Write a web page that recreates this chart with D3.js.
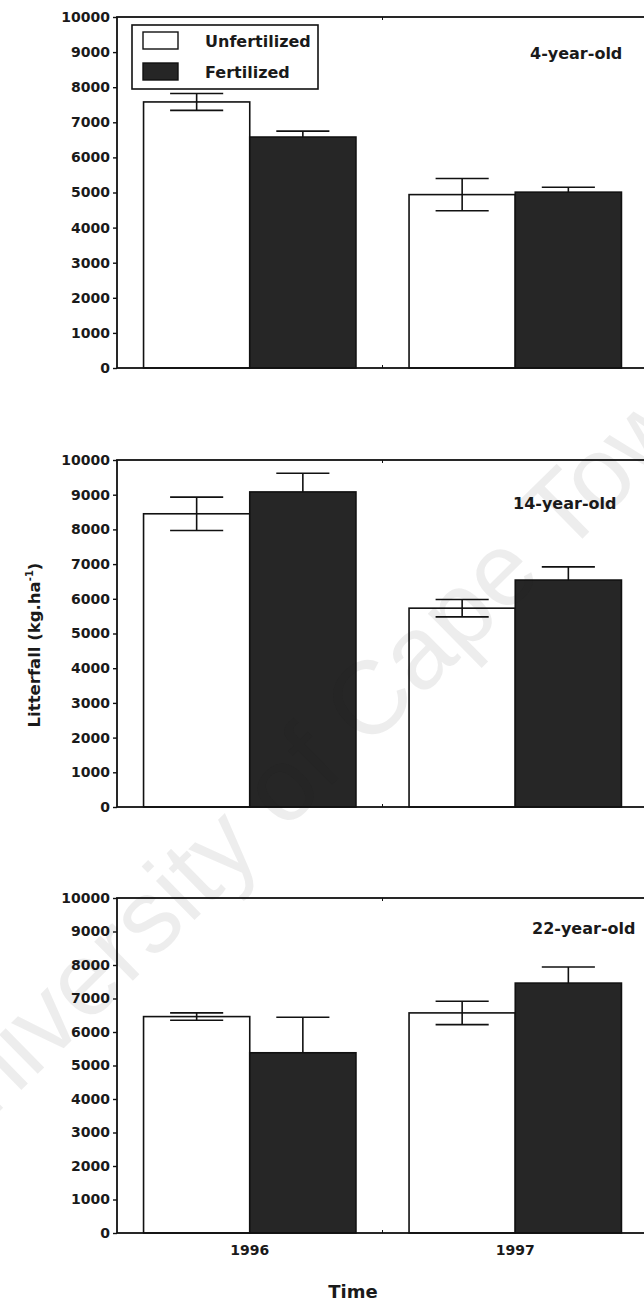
<!DOCTYPE html>
<html>
<head>
<meta charset="utf-8">
<script src="https://cdn.jsdelivr.net/npm/d3@7"></script>
<style>
  body { margin: 0; background: #fff; }
  svg { display: block; }
  text { font-family: "DejaVu Sans", sans-serif; font-weight: bold; fill: #1a1a1a; }
</style>
</head>
<body>
<div id="chart"></div>
<script>
// data
const years = ['1996', '1997'];
const ages = ['4-year-old', '14-year-old', '22-year-old'];
const series = ['Unfertilized', 'Fertilized'];
const unfertMean = [[7580, 4940], [8450, 5730], [6460, 6570]];
const unfertErr = [[240, 460], [480, 250], [110, 350]];
const fertMean = [[6580, 5010], [9080, 6540], [5380, 7460]];
const fertErr = [[170, 140], [540, 380], [1060, 480]];
const yTicks = [0, 1000, 2000, 3000, 4000, 5000, 6000, 7000, 8000, 9000, 10000];

const width = 644, height = 1303;
const left = 117, right = 648;
const panels = [
    { top: 17, bottom: 368 },
    { top: 460, bottom: 807 },
    { top: 898, bottom: 1233 }
];
const agePos = [{ x: 530, y: 59 }, { x: 513, y: 509 }, { x: 532, y: 934 }];
const fills = ['#ffffff', '#262626'];

const svg = d3.select('#chart').append('svg')
    .attr('width', width)
    .attr('height', height);

const x = d3.scaleBand().domain(years).range([left, right])
    .paddingInner(0.2).paddingOuter(0.1);
const xs = d3.scaleBand().domain(series).range([0, x.bandwidth()]);
const cx = d => x(d.yr) + xs(d.s) + xs.bandwidth() / 2;

panels.forEach((p, pi) => {
    const y = d3.scaleLinear().domain([0, 10000]).range([p.bottom, p.top]);
    const g = svg.append('g');

    const rows = [];
    years.forEach((yr, i) => {
        rows.push({ yr, s: series[0], v: unfertMean[pi][i], e: unfertErr[pi][i] });
        rows.push({ yr, s: series[1], v: fertMean[pi][i], e: fertErr[pi][i] });
    });

    // bars
    g.selectAll('rect.bar').data(rows).join('rect')
        .attr('class', 'bar')
        .attr('x', d => x(d.yr) + xs(d.s))
        .attr('y', d => y(d.v))
        .attr('width', xs.bandwidth())
        .attr('height', d => y(0) - y(d.v))
        .attr('fill', d => fills[series.indexOf(d.s)])
        .attr('stroke', '#111')
        .attr('stroke-width', 1.6);

    // error bars (the lower half of the dark bars is hidden in the fill)
    const cap = xs.bandwidth() * 0.25;
    const eb = g.selectAll('g.err').data(rows).join('g').attr('class', 'err')
        .attr('stroke', '#111').attr('stroke-width', 1.6);
    eb.append('line')
        .attr('x1', cx).attr('x2', cx)
        .attr('y1', d => d.s === series[0] ? y(d.v - d.e) : y(d.v))
        .attr('y2', d => y(d.v + d.e));
    eb.append('line')
        .attr('x1', d => cx(d) - cap).attr('x2', d => cx(d) + cap)
        .attr('y1', d => y(d.v + d.e)).attr('y2', d => y(d.v + d.e));
    eb.filter(d => d.s === series[0]).append('line')
        .attr('x1', d => cx(d) - cap).attr('x2', d => cx(d) + cap)
        .attr('y1', d => y(d.v - d.e)).attr('y2', d => y(d.v - d.e));

    // frame (right side falls outside the picture)
    g.append('rect')
        .attr('x', left).attr('y', p.top)
        .attr('width', right - left).attr('height', p.bottom - p.top)
        .attr('fill', 'none').attr('stroke', '#111').attr('stroke-width', 1.8);

    // small ticks at the year boundary
    const mid = x('1997') - x.step() * x.paddingInner() / 2;
    g.append('line').attr('x1', mid).attr('x2', mid)
        .attr('y1', p.top).attr('y2', p.top + 3).attr('stroke', '#111');
    g.append('line').attr('x1', mid).attr('x2', mid)
        .attr('y1', p.bottom).attr('y2', p.bottom - 3).attr('stroke', '#111');

    // y axis
    const ya = g.append('g')
        .attr('transform', `translate(${left},0)`)
        .call(d3.axisLeft(y).tickValues(yTicks).tickSize(4).tickPadding(3).tickFormat(d3.format('d')));
    ya.select('.domain').remove();
    ya.selectAll('line').attr('stroke', '#111').attr('stroke-width', 1.4);
    ya.selectAll('text')
        .style('font-family', '"DejaVu Sans", sans-serif')
        .style('font-weight', 'bold')
        .style('font-size', '14px')
        .attr('fill', '#1a1a1a');

    // panel label
    g.append('text')
        .attr('x', agePos[pi].x).attr('y', agePos[pi].y)
        .style('font-size', '16px')
        .text(ages[pi]);

    if (pi === panels.length - 1) {
        const xa = g.append('g')
            .attr('transform', `translate(0,${p.bottom})`)
            .call(d3.axisBottom(x).tickSize(0).tickPadding(12));
        xa.select('.domain').remove();
        xa.selectAll('text')
            .style('font-family', '"DejaVu Sans", sans-serif')
            .style('font-weight', 'bold')
            .style('font-size', '14px')
            .attr('fill', '#1a1a1a');
    }
});

// legend
const lg = svg.append('g');
lg.append('rect').attr('x', 132).attr('y', 25).attr('width', 186).attr('height', 64)
    .attr('fill', '#fff').attr('stroke', '#111').attr('stroke-width', 1.6);
series.forEach((s, i) => {
    lg.append('rect')
        .attr('x', 143).attr('y', 32 + i * 31)
        .attr('width', 35).attr('height', 17)
        .attr('fill', fills[i]).attr('stroke', '#111').attr('stroke-width', 1.4);
    lg.append('text')
        .attr('x', 205).attr('y', 47 + i * 31)
        .style('font-size', '16px')
        .text(s);
});

// axis titles
const yl = svg.append('text')
    .attr('transform', 'translate(40,645) rotate(-90)')
    .attr('text-anchor', 'middle')
    .style('font-size', '16.5px');
yl.append('tspan').text('Litterfall (kg.ha');
yl.append('tspan').attr('dy', -7).style('font-size', '10px').text('-1');
yl.append('tspan').attr('dy', 7).text(')');

svg.append('text')
    .attr('x', 353).attr('y', 1298)
    .attr('text-anchor', 'middle')
    .style('font-size', '18px')
    .text('Time');

// scan watermark
svg.append('text')
    .attr('transform', 'translate(-62,1172) rotate(-44.5)')
    .style('font-family', '"Liberation Sans", sans-serif')
    .style('font-weight', 'normal')
    .style('font-size', '104px')
    .attr('fill', '#000')
    .attr('fill-opacity', 0.08)
    .text('University of Cape Town');
</script>
</body>
</html>
